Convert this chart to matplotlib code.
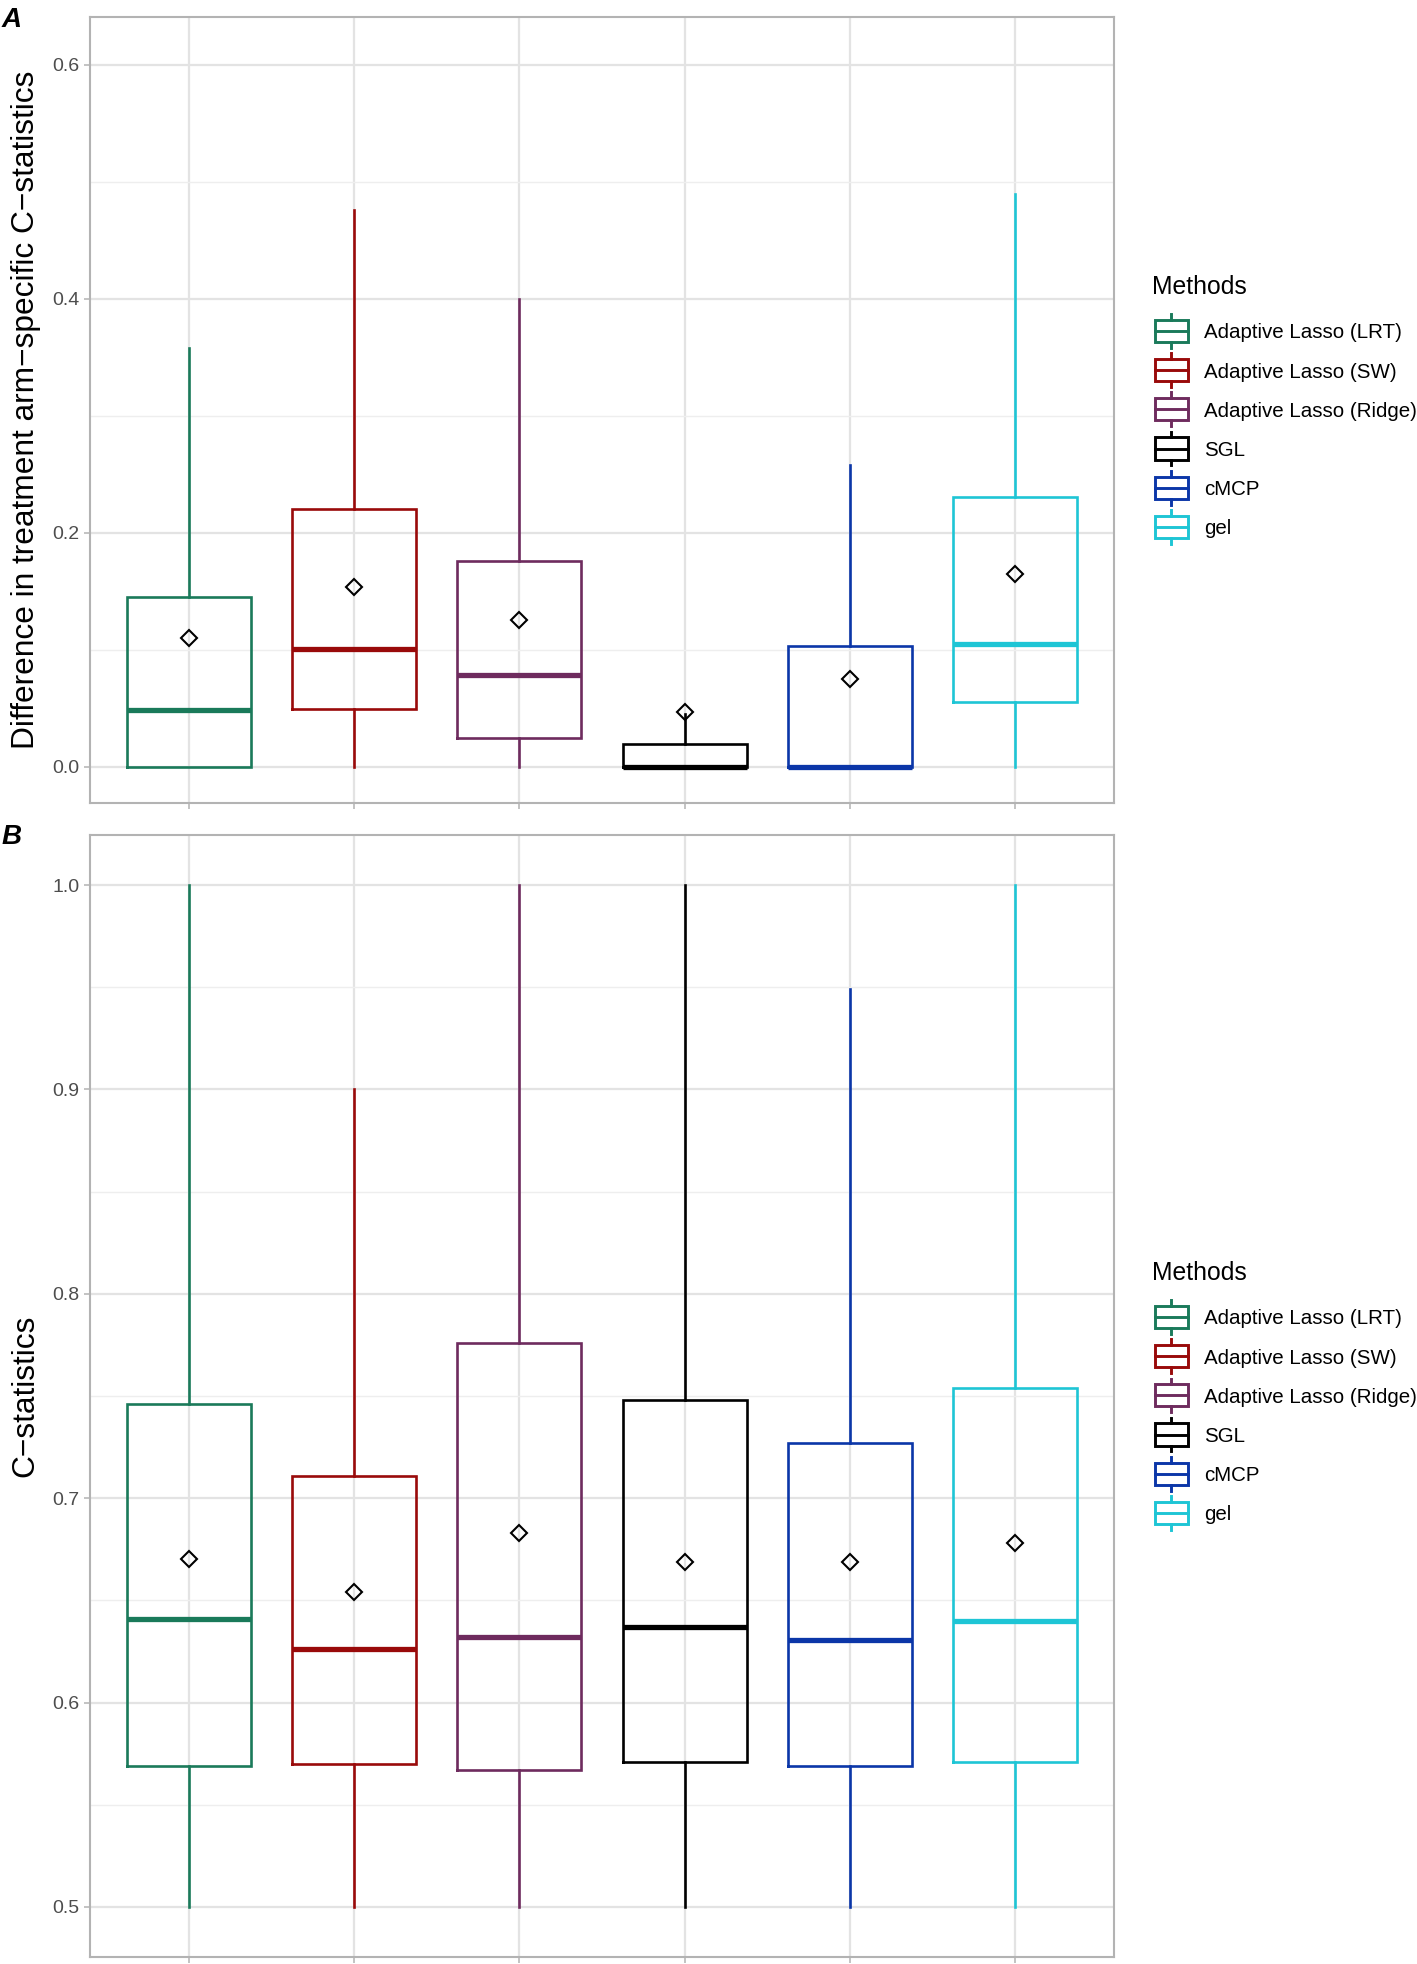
import matplotlib
matplotlib.use("Agg")
import matplotlib.pyplot as plt
from matplotlib.legend_handler import HandlerBase
from matplotlib.patches import Rectangle, Patch
from matplotlib.lines import Line2D
from matplotlib.ticker import MultipleLocator, FormatStrFormatter

plt.rcParams['font.family'] = ['Liberation Sans', 'DejaVu Sans']

methods = ["Adaptive Lasso (LRT)", "Adaptive Lasso (SW)", "Adaptive Lasso (Ridge)",
           "SGL", "cMCP", "gel"]
colors = ["#1A7A5A", "#990A0A", "#6E2B5E", "#000000", "#0B36A8", "#1EC5D5"]

# Panel A: difference in treatment arm-specific C-statistics
a_whislo = [0.0, 0.0, 0.0, 0.0, 0.0, 0.0]
a_q1 = [0.0, 0.0499, 0.0245, 0.0, 0.0, 0.0556]
a_med = [0.0487, 0.1008, 0.0786, 0.0, 0.0, 0.1049]
a_q3 = [0.145, 0.2207, 0.1758, 0.0197, 0.1037, 0.2304]
a_whishi = [0.358, 0.4757, 0.3997, 0.045, 0.2582, 0.4897]
a_mean = [0.110, 0.154, 0.126, 0.047, 0.0752, 0.165]

# Panel B: C-statistics
b_whislo = [0.5, 0.5, 0.5, 0.5, 0.5, 0.5]
b_q1 = [0.569, 0.570, 0.567, 0.571, 0.569, 0.571]
b_med = [0.641, 0.626, 0.632, 0.637, 0.6305, 0.640]
b_q3 = [0.746, 0.711, 0.776, 0.748, 0.727, 0.754]
b_whishi = [1.0, 0.9, 1.0, 1.0, 0.949, 1.0]
b_mean = [0.670, 0.654, 0.683, 0.669, 0.669, 0.678]

W, H = 1417, 1964
DPI = 100
fig = plt.figure(figsize=(W / DPI, H / DPI), dpi=DPI)

GRID_MAJ = "#E3E3E3"
GRID_MIN = "#EEEEEE"
BORDER = "#B3B3B3"
LW = 1.9


class HandlerBoxKey(HandlerBase):
    def create_artists(self, legend, orig_handle, xdescent, ydescent, width, height,
                       fontsize, trans):
        c = orig_handle.get_edgecolor()
        x0 = -xdescent
        yc = 0.36 * fontsize
        bh = 1.08 * fontsize
        wh = 1.64 * fontsize
        rect = Rectangle((x0, yc - bh / 2), width, bh, facecolor='none', edgecolor=c,
                         lw=2.1, transform=trans)
        med = Line2D([x0, x0 + width], [yc, yc], color=c, lw=2.1, transform=trans)
        w1 = Line2D([x0 + width / 2] * 2, [yc - wh / 2, yc - bh / 2], color=c, lw=2.1,
                    transform=trans)
        w2 = Line2D([x0 + width / 2] * 2, [yc + bh / 2, yc + wh / 2], color=c, lw=2.1,
                    transform=trans)
        return [w1, w2, rect, med]


def panel(rect_px, whislo, q1, med, q3, whishi, mean, ylim, major, minor, ylabel):
    left, top, right, bottom = rect_px
    ax = fig.add_axes([left / W, 1 - bottom / H, (right - left) / W, (bottom - top) / H])
    stats = []
    for i in range(len(methods)):
        stats.append(dict(med=med[i], q1=q1[i], q3=q3[i], whislo=whislo[i],
                          whishi=whishi[i], mean=mean[i], fliers=[], label=methods[i]))
    res = ax.bxp(stats, positions=list(range(1, len(methods) + 1)), widths=0.75,
                 showmeans=True, showcaps=False, showfliers=False,
                 meanprops=dict(marker='D', markerfacecolor='none', markeredgecolor='black',
                                markersize=8, markeredgewidth=1.5, zorder=5))
    for i, c in enumerate(colors):
        res['boxes'][i].set(color=c, lw=LW, zorder=3, solid_joinstyle='miter')
        res['medians'][i].set(color=c, lw=3.8, zorder=4, solid_capstyle='butt')
        for w in res['whiskers'][2 * i:2 * i + 2]:
            w.set(color=c, lw=LW, zorder=2.5)
    ax.set_xlim(0.4, 6.6)
    ax.set_ylim(*ylim)
    ax.yaxis.set_major_locator(MultipleLocator(major))
    ax.yaxis.set_minor_locator(MultipleLocator(minor))
    ax.yaxis.set_major_formatter(FormatStrFormatter('%.1f'))
    ax.set_xticks(range(1, len(methods) + 1))
    ax.set_xticklabels([''] * len(methods))
    ax.set_axisbelow(True)
    ax.grid(which='major', color=GRID_MAJ, lw=1.6)
    ax.grid(which='minor', axis='y', color=GRID_MIN, lw=1.0)
    for s in ax.spines.values():
        s.set_color(BORDER)
        s.set_linewidth(1.5)
    ax.tick_params(which='major', color=BORDER, length=4.3, width=1.1, labelsize=14,
                   labelcolor='#4D4D4D', pad=3.3)
    ax.tick_params(which='minor', length=0)
    ax.set_ylabel(ylabel, fontsize=22.8, color='black')
    ax.yaxis.set_label_coords(-0.048, 0.5)
    return ax


axA = panel((90, 17, 1114, 803), a_whislo, a_q1, a_med, a_q3, a_whishi, a_mean,
            (-0.0308, 0.641), 0.2, 0.1,
            "Difference in treatment arm\u2212specific C\u2212statistics")
axB = panel((90, 835, 1114, 1957), b_whislo, b_q1, b_med, b_q3, b_whishi, b_mean,
            (0.4755, 1.0245), 0.1, 0.05, "C\u2212statistics")

fig.text(2 / W, 1 - 27 / H, "A", fontsize=20, fontweight='bold', fontstyle='italic',
         va='baseline', ha='left')
fig.text(2 / W, 1 - 844 / H, "B", fontsize=20, fontweight='bold', fontstyle='italic',
         va='baseline', ha='left')

FS = 14.8
for off in (0, 986):
    handles = [Patch(edgecolor=c, facecolor='none', label=m) for m, c in zip(methods, colors)]
    fig.text(1152 / W, 1 - (294 + off) / H, "Methods", fontsize=17.8, va='baseline',
             ha='left')
    leg = fig.legend(handles=handles, loc='upper left',
                     bbox_to_anchor=(1155 / W, 1 - (318.5 + off) / H),
                     bbox_transform=fig.transFigure, frameon=False, fontsize=FS,
                     handler_map={Patch: HandlerBoxKey()}, handlelength=1.6,
                     handleheight=1.6, labelspacing=0.62, handletextpad=0.78,
                     borderpad=0, borderaxespad=0)

fig.savefig("out.png", dpi=DPI)
